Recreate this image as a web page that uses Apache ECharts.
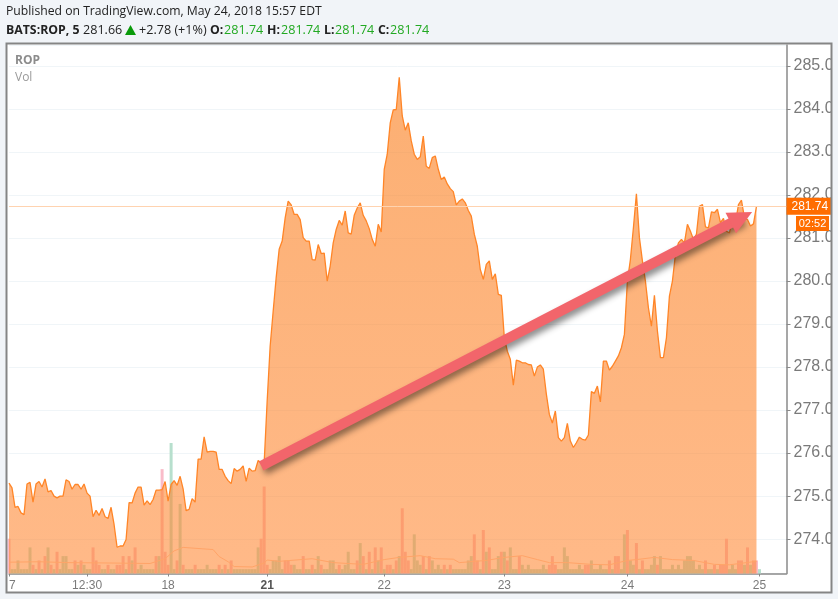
<!DOCTYPE html>
<html><head><meta charset="utf-8">
<style>html,body{margin:0;padding:0;background:#f1f4f8}#c{width:838px;height:599px}</style>
<script src="https://cdn.jsdelivr.net/npm/echarts@6/dist/echarts.min.js"></script>
</head><body><div id="c"></div>
<script>
const priceValues = [
275.30,275.19,274.74,274.76,274.61,274.57,275.28,275.32,274.86,275.28,
275.34,275.21,275.40,275.10,275.13,275.00,274.96,275.00,275.00,275.38,
275.34,275.16,275.27,275.27,275.16,275.28,275.07,275.00,274.52,274.67,
274.55,274.71,274.52,274.48,274.74,274.34,273.81,273.84,273.84,273.99,
274.85,274.84,275.07,275.21,275.21,274.79,274.89,274.80,274.92,275.14,
275.14,275.15,275.34,274.88,275.27,275.36,275.25,275.46,275.17,274.66,
274.69,274.94,274.86,275.86,275.86,276.38,276.02,276.04,276.04,276.02,
275.62,275.62,275.46,275.36,275.29,275.64,275.58,275.62,275.70,275.34,
275.65,275.58,275.59,275.83,275.77,275.77,
277.21,278.49,279.30,280.08,280.74,280.93,281.47,281.86,281.77,281.55,
281.55,281.43,281.01,280.93,280.93,280.50,280.49,280.85,280.64,280.65,
280.00,280.35,280.89,281.20,281.41,281.30,281.63,281.12,281.09,281.53,
281.70,281.82,281.53,281.40,281.22,280.97,280.81,281.32,281.14,282.60,
282.95,283.68,283.98,283.99,284.74,283.84,283.51,283.68,283.26,282.95,
282.83,282.89,283.37,282.67,282.62,282.87,282.91,282.60,282.36,282.42,
282.26,282.15,282.08,281.77,281.86,281.91,281.82,281.64,281.51,281.09,
280.81,280.27,280.04,280.39,280.47,280.04,280.17,279.69,279.67,
278.68,278.37,278.18,277.58,278.16,278.14,278.10,278.10,278.06,278.05,
277.79,278.00,278.05,277.95,277.37,276.90,276.70,276.98,276.36,276.28,
276.36,276.69,276.28,276.13,276.24,276.37,276.32,276.30,276.42,277.43,
277.39,277.56,277.19,278.14,278.14,277.93,278.02,278.14,278.26,278.45,
278.76,280.00,280.50,281.24,282.03,281.01,280.47,280.00,279.38,278.95,
279.67,278.84,278.22,278.22,278.68,279.65,280.00,280.62,280.89,280.97,
280.89,281.32,281.16,280.97,281.09,281.74,281.78,281.26,281.24,281.61,
281.59,281.67,281.36,281.46,281.16,281.12,281.47,281.36,281.78,281.88,
281.47,281.43,281.28,281.33,281.74];

// volume in hundreds of shares
const volumeValues = [
8,1,1,3,1,1,1,6,2,1, 3,1,4,6,2,1,5,1,4,4, 1,1,3,2,3,2,1,1,6,3,
2,1,1,2,1,1,2,2,4,1, 4,3,6,1,2,1,1,1,1,4, 4,24,5,2,30,1,3,16,2,1,
1,1,2,1,1,1,2,1,1,1, 2,1,2,1,3,1,1,1,1,1, 1,1,1,6,8,20,2,1,3,3,
4,1,3,3,2,2,1,1,4,1, 1,2,1,4,2,1,1,3,3,1, 2,1,2,5,1,1,3,7,4,1,
5,1,6,3,6,1,2,2,1,3, 4,15,5,3,1,9,3,2,4,1, 4,3,1,2,1,2,1,2,1,1,
1,1,1,3,4,9,3,1,10,5, 6,1,1,4,5,5,3,6,1,1, 4,2,1,2,1,1,1,1,2,1,
2,4,2,1,1,6,4,1,1,1, 2,1,2,2,3,1,1,2,1,1, 3,1,4,4,1,9,10,3,2,7,
1,3,1,1,2,4,2,4,1,1, 1,2,1,2,1,3,4,4,3,1, 2,1,3,1,1,2,1,2,2,8,
1,2,1,3,3,2,6,2,3,3,1];
const fallingBars = [0,8,10,12,14,16,22,24,28,29,30,33,36,37,38,40,42,49,51,52,53,56,58,62,70,72,74,84,85,86,92,93,94,98,101,104,110,116,118,120,122,124,126,127,129,131,132,133,138,140,145,147,155,156,158,160,164,166,170,180,181,182,192,193,200,202,203,206,209,211,216,232,235,237,238,239,243,244,246,248,249];

// moving average of volume, read at these bars
const volumeMaBars   = [0,10,20,35,47,52,55,58,68,70,73,75,81,85,86,90,101,108,118,125,130,137,142,148,150,159,165,171,176,180,186,194,200,206,209,215,221,228,235,240,249];
const volumeMaValues = [2.6,2.7,2.5,2.4,2.3,3.4,5.2,6.0,5.5,3.9,2.7,1.6,1.5,2.4,3.1,2.8,3.4,2.5,2.1,3.2,3.7,4.1,3.4,3.3,2.5,3.0,3.7,4.1,3.2,2.5,2.5,2.1,2.0,3.0,3.2,3.7,3.2,3.0,2.1,2.0,2.8];

const tickLabels = {0:'7',26:'12:30',53:'18',86:'21',125:'22',165:'23',206:'24',250:'25'};
const categoryCount = 260;
const categories = Array.from({length:categoryCount},(_,i)=>tickLabels[i]||'');
const lastPrice = 281.74;
const trendStart = [84,275.70];
const trendEnd = [244,281.48];

const GRAY='#8a8a8a', TXT='#7a7a7a', GREEN='#22a922';
const font='"Open Sans",sans-serif';
function t(x,y,text,fill,weight,size){return {type:'text',x,y,z:20,silent:true,style:{text,fill,font:(weight?'bold 12.3px ':'normal '+(size||12.6)+'px ')+font,textVerticalAlign:'middle'}};}
const chart=echarts.init(document.getElementById('c'));
chart.setOption({
 animation:false,
 backgroundColor:'#f1f4f8',
 grid:{left:9,right:51.5,top:45,bottom:25.5,containLabel:false},
 xAxis:{type:'category',data:categories,boundaryGap:false,
  axisLine:{lineStyle:{color:GRAY,width:1.5}},
  axisTick:{length:3,lineStyle:{color:GRAY},interval:(i)=>!!tickLabels[i]},
  axisLabel:{interval:(i)=>!!tickLabels[i],color:TXT,fontFamily:'"Liberation Sans",Arial',fontSize:12,margin:6,hideOverlap:false,alignMinLabel:'left',
    formatter:(v)=>v==='21'?'{b|21}':v,rich:{b:{fontWeight:'bold',color:'#555',fontSize:12,fontFamily:'"Liberation Sans",Arial'}}},
  splitLine:{show:false}},
 yAxis:[
  {type:'value',position:'right',min:273.2,max:285.49,splitNumber:12,minInterval:1,maxInterval:1,
   axisLine:{show:true,lineStyle:{color:GRAY,width:1.5}},
   axisTick:{show:true,length:4,lineStyle:{color:GRAY}},
   axisLabel:{color:TXT,fontFamily:'"Liberation Sans",Arial',fontSize:16,margin:7,showMinLabel:false,showMaxLabel:false,
     formatter:(v)=>v.toFixed(1)},
   splitLine:{show:true,lineStyle:{color:'#f0f5f8',width:1}}},
  {type:'value',show:false,min:0,max:121.5,splitLine:{show:false}}
 ],
 graphic:[
  {type:'rect',z:-1,silent:true,shape:{x:6.5,y:43.5,width:825,height:549},style:{fill:'#fff'}},
  {type:'rect',z:40,silent:true,shape:{x:832,y:43,width:6,height:550},style:{fill:'#f1f4f8'}},
  {type:'rect',z:41,silent:true,shape:{x:6.5,y:43.5,width:825,height:549},style:{fill:'none',stroke:'#858585',lineWidth:2}},
  t(6,12,'Published on TradingView.com, May 24, 2018 15:57 EDT','#222',null,12.2),
  t(6,30,'BATS:ROP, 5','#222','bold'),
  t(83,30,'281.66','#222'),
  {type:'polygon',z:20,silent:true,shape:{points:[[125,35],[136,35],[130.5,25]]},style:{fill:'#0a9a0a'}},
  t(139,30,'+2.78 (+1%)','#222'),
  t(210,30,'O:','#222','bold'),t(224,30,'281.74',GREEN),
  t(267,30,'H:','#222','bold'),t(281,30,'281.74',GREEN),
  t(324,30,'L:','#222','bold'),t(335,30,'281.74',GREEN),
  t(378,30,'C:','#222','bold'),t(390,30,'281.74',GREEN),
  {type:'text',x:15,y:61,z:20,silent:true,style:{text:'ROP',fill:'#8c8c8c',font:'bold 12px '+font,textVerticalAlign:'middle'}},
  {type:'text',x:15,y:78,z:20,silent:true,style:{text:'Vol',fill:'#9a9a9a',font:'12px '+font,textVerticalAlign:'middle'}},
  {type:'rect',z:30,silent:true,shape:{x:796,y:216,width:33,height:15},style:{fill:'#ff6d00'}},
  {type:'text',x:812.5,y:223.5,z:31,silent:true,style:{text:'02:52',fill:'#fff',font:'11px "Liberation Sans",Arial',textAlign:'center',textVerticalAlign:'middle'}}
 ],
 series:[
  {type:'bar',name:'Vol',yAxisIndex:1,z:1,barWidth:3,
   data:volumeValues.map((v,i)=>({value:v,itemStyle:{color:fallingBars.includes(i)?'#f9bcc9':'#b7dfcd'}}))},
  {type:'line',name:'ROP',z:2,data:priceValues,symbol:'none',showSymbol:false,
   lineStyle:{color:'#ff8527',width:1.3},
   areaStyle:{opacity:1,color:{type:'linear',x:0,y:0,x2:0,y2:1,colorStops:[{offset:0,color:'rgba(250,130,35,.64)'},{offset:1,color:'rgba(255,135,50,.58)'}]}},
   markLine:{silent:true,symbol:'none',animation:false,z:3,
    lineStyle:{color:'#ffd3b0',type:'solid',width:1},
    label:{show:true,position:'end',formatter:()=>lastPrice.toFixed(2),color:'#fff',backgroundColor:'#ff6d00',
      padding:[3,5,2,5],distance:0,fontSize:12,fontFamily:'"Liberation Sans",Arial'},
    data:[{yAxis:lastPrice}]}},
  {type:'line',name:'Vol MA',yAxisIndex:1,z:3,symbol:'none',showSymbol:false,connectNulls:true,
   lineStyle:{color:'#ffa468',width:1},
   data:volumeMaBars.map((b,i)=>[b,volumeMaValues[i]])},
  {type:'line',name:'Trend',z:10,data:[],symbol:'none',
   markLine:{silent:true,animation:false,z:12,symbol:['none','triangle'],symbolSize:[23,24],
    lineStyle:{color:'#f2656b',type:'solid',width:10,cap:'butt',shadowColor:'rgba(0,0,0,.45)',shadowBlur:6,shadowOffsetX:3,shadowOffsetY:4,opacity:1},
    label:{show:false},
    data:[[{coord:trendStart},{coord:trendEnd}]]}}
 ]
});
</script></body></html>
